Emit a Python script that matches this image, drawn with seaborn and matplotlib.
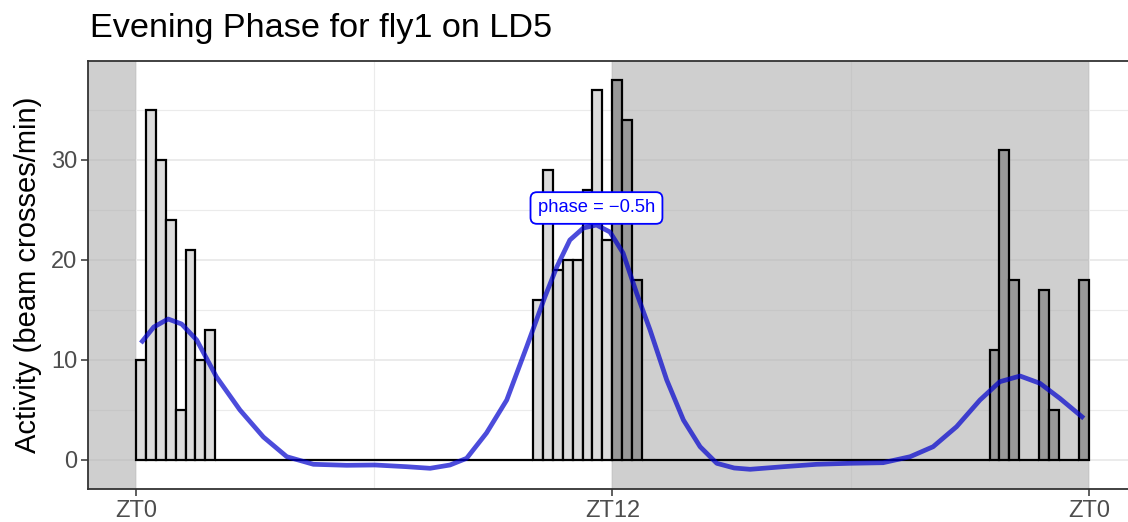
import numpy as np
import pandas as pd
import matplotlib
matplotlib.use("Agg")
import matplotlib.pyplot as plt
import seaborn as sns

# 15-minute activity bins over one LD day (ZT0 .. ZT24)
bin_width = 0.25
activity_zt0_6 = [10, 35, 30, 24, 5, 21, 10, 13, 0, 0, 0, 0,
                  0, 0, 0, 0, 0, 0, 0, 0, 0, 0, 0, 0]
activity_zt6_12 = [0, 0, 0, 0, 0, 0, 0, 0, 0, 0, 0, 0,
                   0, 0, 0, 0, 16, 29, 19, 20, 20, 27, 37, 22]
activity_zt12_18 = [38, 34, 18, 0, 0, 0, 0, 0, 0, 0, 0, 0,
                    0, 0, 0, 0, 0, 0, 0, 0, 0, 0, 0, 0]
activity_zt18_24 = [0, 0, 0, 0, 0, 0, 0, 0, 0, 0, 0, 0,
                    0, 0, 11, 31, 18, 0, 0, 17, 5, 0, 0, 18]

# smoothed activity profile
smooth_zt = [0.125, 0.45, 0.81, 1.15, 1.53, 2.03, 2.62, 3.21, 3.80, 4.47,
             5.31, 6.02, 6.82, 7.41, 7.91, 8.33, 8.83, 9.34, 9.84, 10.30,
             10.60, 10.93, 11.27, 11.60, 11.94, 12.27, 12.61, 12.95, 13.37,
             13.79, 14.21, 14.63, 15.07, 15.47, 16.31, 17.15, 17.98, 18.82,
             19.50, 20.08, 20.67, 21.26, 21.76, 22.27, 22.77, 23.27, 23.875]
smooth_activity = [11.7, 13.3, 14.1, 13.6, 12.0, 8.3, 5.0, 2.3, 0.33, -0.43,
                   -0.53, -0.5, -0.67, -0.83, -0.5, 0.17, 2.7, 6.0, 11.3, 16.3,
                   19.3, 22.0, 23.2, 23.5, 22.8, 20.7, 16.7, 13.0, 8.0,
                   4.0, 1.33, -0.33, -0.8, -0.93, -0.67, -0.43, -0.33, -0.27,
                   0.33, 1.33, 3.33, 6.0, 7.83, 8.4, 7.67, 6.17, 4.17]

peak_zt = 11.6
phase_label = "phase = \u22120.5h"

tick_positions = [0, 12, 24]
tick_labels = ["ZT0", "ZT12", "ZT0"]
lights_off = 12

activity = activity_zt0_6 + activity_zt6_12 + activity_zt12_18 + activity_zt18_24
bin_start = np.arange(len(activity)) * bin_width
df = pd.DataFrame({
    "t": bin_start + bin_width / 2,
    "activity": activity,
    "phase": np.where(bin_start >= lights_off, "dark", "light"),
})

sns.set_style("white")
plt.rcParams["font.family"] = ["Liberation Sans", "DejaVu Sans"]

W, H = 1128, 522
fig = plt.figure(figsize=(W / 100, H / 100), dpi=100)
left_px, right_px, top_px, bottom_px = 88.3, 1136.4, 60.5, 489.0
ax = fig.add_axes([left_px / W, 1 - bottom_px / H,
                   (right_px - left_px) / W, (bottom_px - top_px) / H])

# grid
ax.set_axisbelow(True)
ax.set_xticks(tick_positions)
ax.set_xticks([6, 18], minor=True)
ax.set_yticks([0, 10, 20, 30])
ax.set_yticks([5, 15, 25, 35], minor=True)
ax.grid(which="major", color="#EBEBEB", lw=1.4)
ax.grid(which="minor", color="#EBEBEB", lw=0.8)

# dark-phase shading
ax.axvspan(-1.2, 0, color="#B0B0B0", alpha=0.6, lw=0, zorder=0.8)
ax.axvspan(lights_off, 24, color="#B0B0B0", alpha=0.6, lw=0, zorder=0.8)

sns.barplot(data=df, x="t", y="activity", hue="phase", native_scale=True,
            dodge=False, width=1.0, saturation=1,
            palette={"light": "#DCDCDC", "dark": "#999999"},
            hue_order=["light", "dark"],
            edgecolor="black", linewidth=1.6, legend=False, ax=ax, zorder=1)

sns.lineplot(x=smooth_zt, y=smooth_activity, color="#0000CD", alpha=0.7,
             linewidth=3.4, sort=False, ax=ax, zorder=2,
             solid_capstyle="butt", solid_joinstyle="round")

ax.text(peak_zt, 25.2, phase_label, ha="center", va="center", color="blue",
        fontsize=13.2, zorder=4,
        bbox=dict(boxstyle="round,pad=0.4,rounding_size=0.35",
                  fc="white", ec="blue", lw=1.3))

ax.set_xlim(-1.2, 25.2)
ax.set_ylim(-2.9, 39.95)
ax.set_xticklabels(tick_labels)
ax.set_xlabel("")
ax.set_ylabel("")
ax.tick_params(which="major", length=5, width=1.1, color="#333333",
               labelsize=17, labelcolor="#4D4D4D", pad=3,
               bottom=True, left=True)
ax.tick_params(which="minor", length=0)
for side in ["left", "bottom", "top", "right"]:
    ax.spines[side].set_color("#333333")
    ax.spines[side].set_linewidth(1.3)

fig.text(90 / W, 1 - 37 / H, "Evening Phase for fly1 on LD5",
         ha="left", va="baseline", fontsize=24.7, color="black")
fig.text(28 / W, 1 - 274.7 / H, "Activity (beam crosses/min)",
         ha="center", va="center", rotation=90, fontsize=21, color="black")

fig.savefig("out.png", dpi=100)
